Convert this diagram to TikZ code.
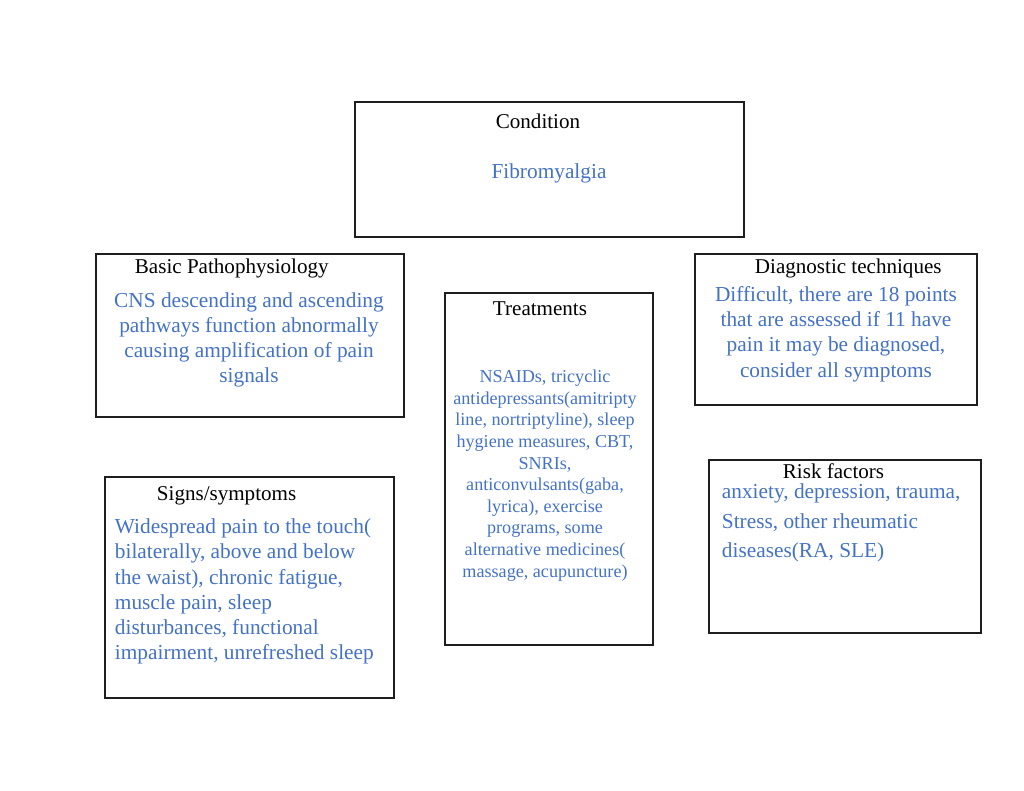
\documentclass[tikz,border=0pt]{standalone}
\usepackage{fontspec}
\setmainfont{Liberation Serif}
\definecolor{bodyblue}{RGB}{68,114,196}

\tikzset{
  boxline/.style={line width=0.9pt, color={rgb, 255:red, 30; green, 30; blue, 30}},
  headtext/.style={inner sep=0.5pt, font=\fontsize{15.8}{18}\selectfont},
  bodytext/.style={inner sep=0.5pt, text=bodyblue, font=\fontsize{16}{18.9}\selectfont},
}

\begin{document}
\begin{tikzpicture}[x=0.75pt,y=0.75pt,yscale=-1,xscale=1]
	\useasboundingbox (0,0) rectangle (1024,791);
	% boxes
	\draw [boxline]  (355,102) -- (744,102) -- (744,237) -- (355,237) -- cycle ;
	\draw [boxline]  (96,254) -- (404,254) -- (404,417) -- (96,417) -- cycle ;
	\draw [boxline]  (445,293) -- (653,293) -- (653,645) -- (445,645) -- cycle ;
	\draw [boxline]  (695,254) -- (977,254) -- (977,405) -- (695,405) -- cycle ;
	\draw [boxline]  (709,460) -- (981,460) -- (981,633) -- (709,633) -- cycle ;
	\draw [boxline]  (105,477) -- (394,477) -- (394,698) -- (105,698) -- cycle ;
	% condition
	\draw (538,121.5) node (condhead) [headtext] {Condition};
	\draw (549,173.5) node (condbody) [bodytext] {Fibromyalgia};
	% basic pathophysiology
	\draw (134,268.5) node (pathohead) [headtext, anchor=west] {Basic Pathophysiology};
	\draw (249,340) node (pathobody) [bodytext, align=center] {CNS descending and ascending\\pathways function abnormally\\causing amplification of pain\\signals};
	% treatments
	\draw (540,308.5) node (treathead) [headtext] {Treatments};
	\draw (545,475.5) node (treatbody) [bodytext, align=center, font=\fontsize{13.6}{16.2}\selectfont] {NSAIDs, tricyclic\\antidepressants(amitripty\\line, nortriptyline), sleep\\hygiene measures, CBT,\\SNRIs,\\anticonvulsants(gaba,\\lyrica), exercise\\programs, some\\alternative medicines(\\massage, acupuncture)};
	% diagnostic techniques
	\draw (754,268.5) node (diaghead) [headtext, anchor=west] {Diagnostic techniques};
	\draw (836,334) node (diagbody) [bodytext, align=center] {Difficult, there are 18 points\\that are assessed if 11 have\\pain it may be diagnosed,\\consider all symptoms};
	% risk factors
	\draw (782,471) node (riskhead) [headtext, anchor=west, font=\fontsize{15.8}{15}\selectfont] {Risk factors};
	\draw (721,523) node (riskbody) [bodytext, anchor=west, align=left, font=\fontsize{16}{22}\selectfont] {anxiety, depression, trauma,\\Stress, other rheumatic\\diseases(RA, SLE)};
	% signs/symptoms
	\draw (156,495.5) node (signhead) [headtext, anchor=west] {Signs/symptoms};
	\draw (114,591.5) node (signbody) [bodytext, anchor=west, align=left] {Widespread pain to the touch(\\bilaterally, above and below\\the waist), chronic fatigue,\\muscle pain, sleep\\disturbances, functional\\impairment, unrefreshed sleep};
\end{tikzpicture}
\end{document}
